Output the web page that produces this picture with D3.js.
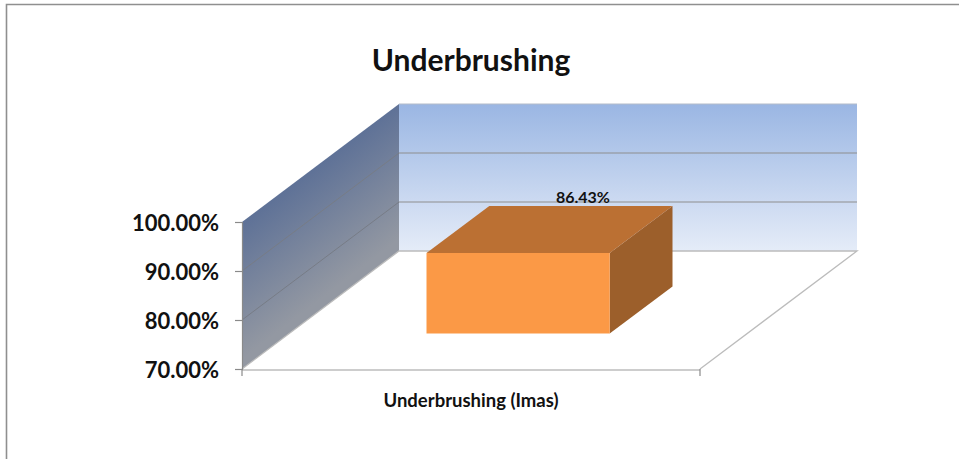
<!DOCTYPE html>
<html>
<head>
<meta charset="utf-8">
<script src="https://cdn.jsdelivr.net/npm/d3@7"></script>
<style>
  html, body { margin: 0; padding: 0; background: #fff; overflow: hidden; }
  svg { display: block; font-family: Lato, "Open Sans", sans-serif; font-weight: 700; }
</style>
</head>
<body>
<svg id="chart" width="959" height="459"></svg>
<script>
const chartTitle = 'Underbrushing';
const categories = ['Underbrushing (Imas)'];
const values = [86.43];
const yTicks = [70, 80, 90, 100];

const svg = d3.select('#chart');
const defs = svg.append('defs');

// front plane of the 3d box
const x = d3.scaleBand().domain(categories).range([242, 700]).paddingInner(0.6).paddingOuter(0.3);
const y = d3.scaleLinear().domain([70, 100]).range([369, 222]);
// depth: 0 is the front edge of the floor, 1 the back wall
const depthX = d3.scaleLinear().domain([0, 1]).range([0, 157]);
const depthY = d3.scaleLinear().domain([0, 1]).range([0, -118]);
const barDepth = [0.3, 0.7];

const [x0, x1] = x.range();
const [yMin, yMax] = y.domain();
const pt = (px, v, d) => [px + depthX(d), y(v) + depthY(d)];
const poly = pts => pts.map(p => p.join(',')).join(' ');

// gradients for the walls
const backGrad = defs.append('linearGradient').attr('id', 'backWall')
  .attr('x1', 0).attr('y1', 0).attr('x2', 0).attr('y2', 1);
backGrad.append('stop').attr('offset', '0%').attr('stop-color', '#9ab6e3');
backGrad.append('stop').attr('offset', '100%').attr('stop-color', '#e5ecf8');

// runs across the sheared wall, from its top edge to its bottom edge
const sideGrad = defs.append('linearGradient').attr('id', 'sideWall')
  .attr('gradientUnits', 'userSpaceOnUse')
  .attr('x1', 320).attr('y1', 165).attr('x2', 385).attr('y2', 250);
sideGrad.append('stop').attr('offset', '0%').attr('stop-color', '#5f7297');
sideGrad.append('stop').attr('offset', '100%').attr('stop-color', '#9398a2');

// chart frame, only top and left show in the crop
svg.append('path')
  .attr('d', d3.line()([[6.5, 459], [6.5, 4.5], [959, 4.5]]))
  .attr('fill', 'none')
  .attr('stroke', '#8f8f8f')
  .attr('stroke-width', 1.6);

// back wall
svg.append('polygon')
  .attr('points', poly([pt(x0, yMax, 1), pt(x1, yMax, 1), pt(x1, yMin, 1), pt(x0, yMin, 1)]))
  .attr('fill', 'url(#backWall)');

// side wall
svg.append('polygon')
  .attr('points', poly([pt(x0, yMax, 0), pt(x0, yMax, 1), pt(x0, yMin, 1), pt(x0, yMin, 0)]))
  .attr('fill', 'url(#sideWall)');

// gridlines on the side wall and back wall
svg.append('g').selectAll('line')
  .data(yTicks.filter(t => t > yMin && t < yMax))
  .join('line')
  .attr('x1', x0).attr('y1', d => y(d))
  .attr('x2', x0 + depthX(1)).attr('y2', d => y(d) + depthY(1))
  .attr('stroke', '#777c86')
  .attr('stroke-width', 1);

svg.append('g').selectAll('line')
  .data(yTicks.filter(t => t > yMin))
  .join('line')
  .attr('x1', x0 + depthX(1)).attr('y1', d => y(d) + depthY(1))
  .attr('x2', x1 + depthX(1)).attr('y2', d => y(d) + depthY(1))
  .attr('stroke', d => d === yMax ? '#b4bcc9' : '#8e8e8e')
  .attr('stroke-width', 1.2);

// floor edges
svg.append('path')
  .attr('d', d3.line()([pt(x0, yMin, 0), pt(x0, yMin, 1), pt(x1, yMin, 1), pt(x1, yMin, 0)]))
  .attr('fill', 'none')
  .attr('stroke', '#bcbcbc')
  .attr('stroke-width', 1.3);

svg.append('line')
  .attr('x1', x0).attr('y1', y(yMin) + 1)
  .attr('x2', x1).attr('y2', y(yMin) + 1)
  .attr('stroke', '#bcbcbc')
  .attr('stroke-width', 1.6);

// the bar
const bars = svg.append('g').selectAll('g')
  .data(categories.map((c, i) => ({ c, v: values[i] })))
  .join('g');

const [dA, dB] = barDepth;
const left = d => x(d.c);
const right = d => x(d.c) + x.bandwidth();

bars.append('polygon') // right side
  .attr('points', d => poly([pt(right(d), d.v, dA), pt(right(d), d.v, dB), pt(right(d), yMin, dB), pt(right(d), yMin, dA)]))
  .attr('fill', '#9c5f2b');
bars.append('polygon') // top
  .attr('points', d => poly([pt(left(d), d.v, dA), pt(left(d), d.v, dB), pt(right(d), d.v, dB), pt(right(d), d.v, dA)]))
  .attr('fill', '#bb7033');
bars.append('polygon') // front
  .attr('points', d => poly([pt(left(d), d.v, dA), pt(right(d), d.v, dA), pt(right(d), yMin, dA), pt(left(d), yMin, dA)]))
  .attr('fill', '#fb9946');

bars.append('text')
  .attr('x', d => x(d.c) + x.bandwidth() / 2 + depthX(dB) + 2)
  .attr('y', d => y(d.v) + depthY(dB) - 3)
  .attr('text-anchor', 'middle')
  .attr('font-size', 16)
  .attr('fill', '#111')
  .text(d => d.v.toFixed(2) + '%');

// value axis
const yAxis = svg.append('g')
  .attr('transform', `translate(${x0},0)`)
  .call(d3.axisLeft(y).tickValues(yTicks).tickSize(7).tickPadding(16).tickFormat(d => d.toFixed(2) + '%'));
yAxis.select('.domain').attr('stroke', '#8a8a8a').attr('stroke-width', 1.2);
yAxis.selectAll('.tick line').attr('stroke', '#8a8a8a').attr('stroke-width', 1.2);
yAxis.selectAll('.tick text')
  .attr('font-family', 'Lato, "Open Sans", sans-serif')
  .attr('font-size', 22)
  .attr('font-weight', 700)
  .attr('dy', '0.38em')
  .attr('fill', '#111');

// category axis, ticks sit on the band edges so they are drawn apart from the labels
const xAxis = svg.append('g')
  .attr('transform', `translate(0,${y(yMin)})`)
  .call(d3.axisBottom(x).tickSize(0).tickPadding(25));
xAxis.select('.domain').remove();
xAxis.selectAll('.tick text')
  .attr('font-family', 'Lato, "Open Sans", sans-serif')
  .attr('font-size', 18.5)
  .attr('font-weight', 700)
  .attr('fill', '#111');

svg.append('g').selectAll('line')
  .data(x.range())
  .join('line')
  .attr('x1', d => d).attr('x2', d => d)
  .attr('y1', y(yMin)).attr('y2', y(yMin) + 7)
  .attr('stroke', '#8a8a8a')
  .attr('stroke-width', 1.2);

svg.append('text')
  .attr('x', 471)
  .attr('y', 71)
  .attr('text-anchor', 'middle')
  .attr('font-size', 30)
  .attr('fill', '#111')
  .text(chartTitle);
</script>
</body>
</html>
